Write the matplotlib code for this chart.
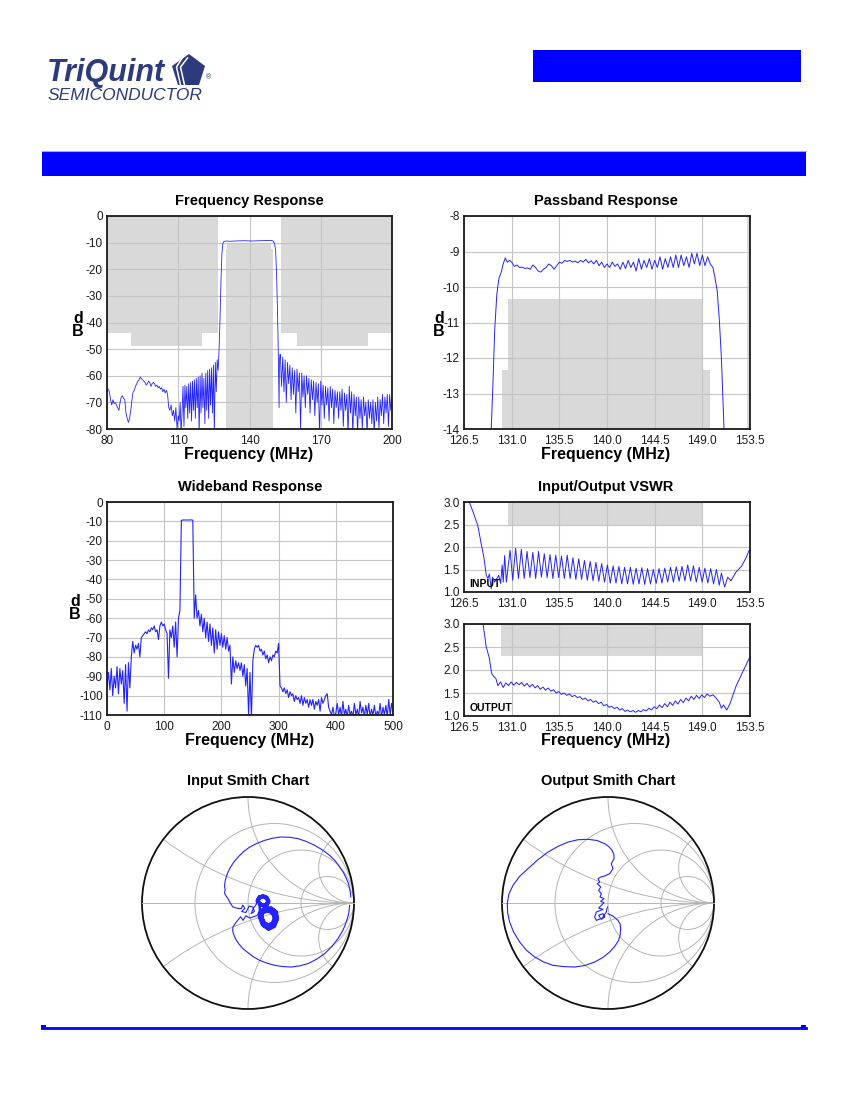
import numpy as np
import matplotlib
matplotlib.use('Agg')
import matplotlib.pyplot as plt
from matplotlib.patches import Rectangle, Polygon, Circle
from matplotlib.lines import Line2D

plt.rcParams['font.family'] = ['Liberation Sans', 'DejaVu Sans']
plt.rcParams['axes.unicode_minus'] = False

W, H = 850, 1100
TRACE = '#2323ff'
GRID = '#c4c4c4'
MASK = '#d9d9d9'

# ---------------- Frequency response (80-200 MHz) ----------------
fr_left_f = np.arange(80.0, 110.01, 0.5)
fr_left_db = [-65.5, -65, -66, -69, -71, -69, -70.5, -70, -71, -72,
              -73, -70, -68, -67.5, -68.5, -69, -74, -76, -77.5, -76,
              -73, -69, -66, -65.5, -64, -63, -62, -61.5, -60.5, -61,
              -61.5, -62, -62.5, -63.5, -63, -62, -62.5, -64, -63, -62.5,
              -63, -64, -63.5, -64.5, -64, -65, -64.5, -66, -65, -66.5,
              -65.5, -67, -72, -73, -71, -75, -73, -77, -72, -80, -75]
fr_rip_f = np.linspace(110.4, 126.4, 41)
fr_rip_db = [-77, -70, -82, -74, -64, -79, -63.5, -72, -64, -76,
             -63, -74, -62.5, -77, -62, -73, -61.5, -76, -61, -72,
             -60.5, -82, -60, -74, -59, -72, -61, -78, -59, -73,
             -58, -76, -57.5, -71, -57, -74, -56, -82, -55, -66, -54]
fr_mid_f = [126.8, 127.2, 127.6, 128.0, 128.4, 128.8, 129.2, 130, 132, 135, 138, 141, 144,
            147, 149, 150, 150.6, 151.0, 151.4, 151.8, 152.1, 152.3, 152.45, 152.6, 152.8]
fr_mid_db = [-58, -50, -38, -24, -14, -10.2, -9.6, -9.4, -9.5, -9.35, -9.3, -9.4, -9.3,
             -9.2, -9.15, -9.4, -10.5, -13, -22, -36, -50, -62, -72, -55, -52]
fr_right_f = np.linspace(153.0, 200.0, 95)
fr_right_db = [-52, -64, -53, -66, -54, -70, -55, -63, -56, -69,
               -57, -67, -58, -74, -57.5, -66, -59, -80, -59, -68,
               -60, -72, -60, -67, -61, -74, -61.5, -69, -62, -75,
               -62.5, -70, -63, -82, -62, -71, -63.5, -76, -64, -71,
               -64.5, -77, -64, -72, -65, -78, -65.5, -72, -66, -76,
               -66, -73, -65, -79, -66.5, -73, -67, -82, -64, -74,
               -66, -82, -67, -75, -68, -82, -68, -76, -69, -80,
               -68, -75, -70, -82, -69, -76, -70, -78, -69, -82,
               -70, -77, -68, -80, -69, -75, -67, -78, -68, -74,
               -67, -79, -67, -73, -68]
stop_mask = [(80, 90, -44), (90, 120, -49), (120, 126.6, -44),
             (153.2, 160, -44), (160, 190, -49), (190, 200, -44)]
pass_mask = [(130.1, 149.7, -12.33), (130.7, 149.1, -10.33)]

# ---------------- Passband response ----------------
pb_f1 = [129.0, 129.2, 129.4, 129.6, 129.8, 130.0, 130.2, 130.4, 130.6, 130.8]
pb_db1 = [-14.5, -13.0, -11.2, -10.2, -9.75, -9.6, -9.35, -9.18, -9.3, -9.25]
pb_rip_f = np.arange(131.0, 150.01, 0.25)
pb_rip_db = [-9.3, -9.42, -9.38, -9.45, -9.44, -9.48, -9.46, -9.5,
             -9.38, -9.45, -9.55, -9.58, -9.5, -9.45, -9.35, -9.4,
             -9.5, -9.4, -9.3, -9.33, -9.25, -9.28, -9.25, -9.3,
             -9.27, -9.32, -9.25, -9.3, -9.22, -9.32, -9.26, -9.35,
             -9.25, -9.4, -9.3, -9.45, -9.35, -9.45, -9.3, -9.42,
             -9.35, -9.5, -9.3, -9.48, -9.25, -9.45, -9.3, -9.55,
             -9.2, -9.5, -9.25, -9.45, -9.2, -9.5, -9.25, -9.45,
             -9.15, -9.5, -9.2, -9.45, -9.15, -9.45, -9.1, -9.45,
             -9.1, -9.4, -9.15, -9.45, -9.05, -9.35, -9.05, -9.4,
             -9.1, -9.4, -9.15, -9.35, -9.45]
pb_f2 = [150.2, 150.4, 150.6, 150.8, 151.0, 151.1]
pb_db2 = [-9.75, -10.1, -10.9, -12.0, -13.6, -14.5]

# ---------------- Wideband response (0-500 MHz, 2.5 MHz steps) ----------------
wb_db = [-95, -88, -97, -86, -100, -90, -96, -85, -99, -86,
         -94, -87, -104, -84, -108, -83, -96, -80, -72, -78,
         -74, -76, -73, -80, -70, -69, -68, -67, -68, -66,
         -67, -65, -66, -64, -67, -66, -71, -64, -62, -64,
         -63, -66, -68, -91, -66, -70, -64, -75, -62, -80,
         -60, -56, -9.5, -9.3, -9.3, -9.3, -9.3, -9.3, -9.3, -9.2,
         -9.4, -60, -48, -60, -56, -64, -58, -67, -60, -70,
         -62, -72, -63, -74, -65, -78, -66, -76, -67, -74,
         -68, -75, -69, -76, -70, -77, -74, -94, -80, -88,
         -82, -86, -83, -87, -83, -90, -84, -95, -86, -110,
         -88, -112, -82, -76, -74, -75, -74, -77, -76, -79,
         -77, -81, -79, -83, -80, -82, -79, -80, -77, -78,
         -73, -95, -96, -98, -96, -99, -97, -101, -98, -100,
         -99, -103, -100, -102, -101, -104, -100, -105, -101, -104,
         -102, -106, -102, -105, -102, -107, -103, -105, -102, -108,
         -101, -104, -102, -100, -99, -106, -108, -110, -106, -111,
         -109, -104, -110, -106, -111, -103, -110, -107, -111, -105,
         -110, -108, -111, -104, -110, -107, -111, -103, -109, -106,
         -111, -105, -110, -104, -111, -107, -110, -105, -111, -108,
         -110, -104, -111, -106, -110, -105, -111, -102, -110, -104,
         -109]
wb_f = np.linspace(0, 500, len(wb_db))

# ---------------- VSWR ----------------
vi_f1 = [126.5, 127.0, 127.4, 127.8, 128.1, 128.4, 128.6, 128.76, 128.9, 129.07,
         129.2, 129.4, 129.6, 129.77, 129.96, 130.1, 130.2, 130.34, 130.5, 130.85]
vi_1 = [3.3, 3.0, 2.75, 2.48, 2.1, 1.74, 1.37, 1.3, 1.4, 1.07,
        1.33, 1.22, 1.3, 1.37, 1.19, 1.6, 1.22, 1.81, 1.22, 1.93]
vi_rip = [1.26, 1.97, 1.30, 1.95, 1.30, 1.90, 1.32, 1.88, 1.30, 1.90,
          1.33, 1.85, 1.32, 1.83, 1.30, 1.82, 1.32, 1.80, 1.30, 1.82,
          1.30, 1.76, 1.28, 1.74, 1.28, 1.70, 1.26, 1.68, 1.25, 1.66,
          1.24, 1.63, 1.22, 1.60, 1.20, 1.58, 1.20, 1.57, 1.18, 1.55,
          1.18, 1.55, 1.17, 1.53, 1.18, 1.54, 1.17, 1.52, 1.18, 1.50,
          1.19, 1.52, 1.20, 1.53, 1.22, 1.55, 1.22, 1.56, 1.24, 1.57,
          1.25, 1.60, 1.25, 1.58, 1.22, 1.55, 1.22, 1.53, 1.20, 1.52,
          1.18, 1.50, 1.15]
vi_rip_f = np.linspace(131.1, 150.6, len(vi_rip))
vi_f2 = [150.8, 151.1, 151.4, 151.7, 152.2, 152.7, 153.1, 153.5]
vi_2 = [1.42, 1.11, 1.33, 1.25, 1.45, 1.57, 1.75, 1.97]

vo_f1 = [128.1, 128.3, 128.6, 128.77, 128.9, 129.1, 129.3, 129.5]
vo_1 = [3.3, 3.0, 2.5, 2.36, 2.25, 1.93, 1.86, 1.82]
vo_rip = [1.66, 1.74, 1.62, 1.72, 1.66, 1.74, 1.67, 1.73,
          1.68, 1.73, 1.65, 1.71, 1.63, 1.69, 1.61, 1.66,
          1.58, 1.63, 1.56, 1.61, 1.54, 1.57, 1.50, 1.53,
          1.47, 1.50, 1.45, 1.48, 1.42, 1.45, 1.40, 1.42,
          1.36, 1.39, 1.33, 1.36, 1.30, 1.33, 1.27, 1.30,
          1.22, 1.25, 1.19, 1.21, 1.16, 1.19, 1.13, 1.16,
          1.10, 1.13, 1.09, 1.12, 1.08, 1.12, 1.09, 1.14,
          1.11, 1.17, 1.13, 1.20, 1.16, 1.24, 1.18, 1.27,
          1.20, 1.30, 1.23, 1.33, 1.26, 1.36, 1.29, 1.39,
          1.33, 1.43, 1.36, 1.45, 1.38, 1.46, 1.40, 1.48,
          1.43]
vo_rip_f = np.linspace(129.7, 149.7, len(vo_rip))
vo_f2 = [150.0, 150.3, 150.6, 150.8, 151.0, 151.3, 151.6, 152.2, 152.8, 153.5]
vo_2 = [1.46, 1.39, 1.3, 1.17, 1.24, 1.13, 1.26, 1.66, 1.95, 2.29]
vin_mask = (130.7, 149.1, 2.5)
vout_mask = (130.0, 149.1, 2.3)

# ---------------- Smith charts (reflection coefficient) ----------------
si_outer_top = [(0.969, 0.057), (0.966, 0.095), (0.959, 0.135), (0.947, 0.185), (0.928, 0.230),
                (0.900, 0.288), (0.865, 0.340), (0.822, 0.398), (0.770, 0.450), (0.703, 0.500),
                (0.629, 0.544), (0.552, 0.580), (0.472, 0.607), (0.393, 0.620), (0.314, 0.623),
                (0.235, 0.612), (0.157, 0.591), (0.085, 0.563), (0.016, 0.528), (-0.042, 0.484),
                (-0.094, 0.434), (-0.138, 0.380), (-0.173, 0.324), (-0.198, 0.268), (-0.214, 0.214),
                (-0.222, 0.160), (-0.215, 0.125), (-0.222, 0.095), (-0.208, 0.068), (-0.189, 0.041),
                (-0.168, 0.000), (-0.142, -0.038), (-0.10, -0.05), (-0.063, -0.053), (-0.05, -0.02),
                (-0.03, -0.05), (-0.06, -0.08), (-0.02, -0.09), (0.01, -0.03), (0.047, -0.038),
                (0.06, -0.08), (0.03, -0.10), (0.05, -0.05), (0.08, -0.01), (0.08, 0.02)]
si_cluster = [(0.08, 0.02), (0.10, 0.06), (0.14, 0.075), (0.18, 0.06), (0.20, 0.02),
              (0.18, -0.02), (0.14, -0.03), (0.10, -0.01),
              (0.09, 0.02), (0.11, 0.05), (0.14, 0.065), (0.175, 0.05), (0.19, 0.02),
              (0.17, -0.01), (0.14, -0.02), (0.11, 0.00),
              (0.085, 0.03), (0.105, 0.065), (0.145, 0.07), (0.185, 0.055), (0.205, 0.015),
              (0.185, -0.025), (0.145, -0.035), (0.105, -0.015),
              (0.11, -0.06), (0.10, -0.13), (0.13, -0.21), (0.19, -0.25), (0.25, -0.22),
              (0.28, -0.15), (0.27, -0.08), (0.22, -0.04), (0.16, -0.04),
              (0.12, -0.07), (0.115, -0.13), (0.14, -0.20), (0.19, -0.235), (0.245, -0.21),
              (0.27, -0.15), (0.26, -0.09), (0.215, -0.055), (0.165, -0.055),
              (0.125, -0.08), (0.125, -0.14), (0.15, -0.19), (0.19, -0.22), (0.235, -0.20),
              (0.255, -0.15), (0.245, -0.10), (0.21, -0.07), (0.17, -0.07),
              (0.115, -0.065), (0.105, -0.125), (0.135, -0.205), (0.19, -0.245), (0.25, -0.215),
              (0.283, -0.15), (0.275, -0.085), (0.225, -0.045), (0.16, -0.05),
              (0.14, -0.09), (0.14, -0.14), (0.16, -0.18), (0.19, -0.20), (0.225, -0.185),
              (0.24, -0.145), (0.23, -0.11), (0.20, -0.085), (0.17, -0.085),
              (0.13, -0.075), (0.11, -0.135), (0.14, -0.215), (0.195, -0.255), (0.255, -0.225),
              (0.28, -0.16), (0.27, -0.09), (0.22, -0.05), (0.17, -0.045),
              (0.10, 0.02), (0.12, 0.045), (0.15, 0.05), (0.17, 0.035), (0.18, 0.01),
              (0.16, -0.01), (0.13, -0.01), (0.11, 0.0),
              (0.12, -0.09), (0.16, -0.20), (0.23, -0.22), (0.26, -0.14), (0.21, -0.07),
              (0.14, -0.10), (0.10, -0.10)]
si_outer_bottom = [(0.10, -0.10), (0.08, -0.12), (0.016, -0.142), (-0.02, -0.12), (-0.047, -0.164),
                   (-0.07, -0.13), (-0.110, -0.179), (-0.142, -0.226), (-0.145, -0.258), (-0.138, -0.289),
                   (-0.118, -0.338), (-0.088, -0.384), (-0.048, -0.430), (0.000, -0.469), (0.052, -0.508),
                   (0.110, -0.541), (0.180, -0.568), (0.252, -0.588), (0.330, -0.600), (0.409, -0.604),
                   (0.488, -0.593), (0.566, -0.572), (0.648, -0.530), (0.723, -0.478), (0.792, -0.410),
                   (0.849, -0.336), (0.895, -0.258), (0.928, -0.179), (0.950, -0.100), (0.959, -0.022)]
so_pts = [(0.000, -0.101), (0.047, -0.123), (0.094, -0.164), (0.115, -0.200), (0.119, -0.242),
          (0.115, -0.300), (0.101, -0.352), (0.063, -0.410), (0.016, -0.462), (-0.050, -0.515),
          (-0.126, -0.557), (-0.220, -0.590), (-0.314, -0.604), (-0.420, -0.600), (-0.519, -0.588),
          (-0.610, -0.555), (-0.692, -0.509), (-0.770, -0.445), (-0.833, -0.368), (-0.890, -0.275),
          (-0.928, -0.179), (-0.947, -0.090), (-0.950, 0.000), (-0.935, 0.085), (-0.896, 0.167),
          (-0.835, 0.250), (-0.755, 0.324), (-0.665, 0.405), (-0.566, 0.481), (-0.470, 0.535),
          (-0.377, 0.575), (-0.283, 0.597), (-0.189, 0.601), (-0.105, 0.590), (-0.031, 0.560),
          (0.010, 0.530), (0.038, 0.497), (0.055, 0.460), (0.057, 0.418), (0.031, 0.371),
          (0.047, 0.324), (0.016, 0.277), (-0.031, 0.255), (-0.069, 0.245),
          (-0.094, 0.230), (-0.079, 0.198), (-0.101, 0.182), (-0.069, 0.151), (-0.088, 0.119),
          (-0.063, 0.088), (-0.075, 0.057), (-0.038, 0.041), (-0.069, 0.016), (-0.038, 0.003),
          (-0.063, -0.022), (-0.088, -0.047), (-0.047, -0.060), (-0.110, -0.085), (-0.126, -0.132),
          (-0.110, -0.164), (-0.069, -0.148), (-0.088, -0.116), (-0.047, -0.101), (-0.031, -0.132),
          (-0.063, -0.154), (-0.016, -0.085), (-0.006, -0.038)]
smith_r = [1 / 3, 1, 3]
smith_x = [1 / 3, 1, 3]

fig = plt.figure(figsize=(8.5, 11), dpi=100)


def P(x, y):
    return (x / W, 1 - y / H)


def ax_px(l, t, r, b):
    return fig.add_axes([l / W, 1 - b / H, (r - l) / W, (b - t) / H])


def style(ax):
    for s in ax.spines.values():
        s.set_linewidth(1.3)
        s.set_color('#1a1a1a')
    ax.tick_params(length=0, labelsize=8.5, colors='#1a1a1a')
    ax.tick_params(axis='x', pad=4.5)
    ax.tick_params(axis='y', pad=3)
    ax.grid(True, color=GRID, lw=0.8)
    ax.set_axisbelow(True)


def ftext(x, y, s, **kw):
    fig.text(x / W, 1 - y / H, s, **kw)


# ---- header / footer decorations ----
fig.add_artist(Rectangle(P(533, 82), 268 / W, 32 / H, transform=fig.transFigure,
                         fc='#0000ff', ec='none'))
fig.add_artist(Rectangle(P(42, 176), 764 / W, 24 / H, transform=fig.transFigure,
                         fc='#0000ff', ec='none'))
fig.add_artist(Line2D([42 / W, 806 / W], [1 - 151 / H] * 2, transform=fig.transFigure,
                      color='#a0a0ff', lw=0.8))
fig.add_artist(Line2D([42 / W, 806 / W], [1 - 1028 / H] * 2, transform=fig.transFigure,
                      color='#0000ff', lw=2.0))
fig.add_artist(Rectangle(P(41, 1029), 5 / W, 4 / H, transform=fig.transFigure, fc='#0000ff', ec='none'))
fig.add_artist(Rectangle(P(801, 1029), 5 / W, 4 / H, transform=fig.transFigure, fc='#0000ff', ec='none'))

NAVY = '#2d3a7c'
ftext(47, 81, 'TriQuint', fontsize=22, fontweight='bold', fontstyle='italic', color=NAVY,
      va='baseline', ha='left')
ftext(48, 100, 'SEMICONDUCTOR', fontsize=12.5, fontstyle='italic', color=NAVY,
      va='baseline', ha='left')
pent = [P(189, 54), P(205, 66), P(199, 85), P(178, 85), P(172, 66)]
fig.add_artist(Polygon(pent, closed=True, transform=fig.transFigure, fc=NAVY, ec='none'))
for off in (0, 4):
    fig.add_artist(Line2D([(183.5 + off) / W, (176.5 + off) / W, (180.5 + off) / W],
                          [1 - (56 + off * 0.5) / H, 1 - 67 / H, 1 - 85 / H],
                          transform=fig.transFigure, color='white', lw=1.1))
ftext(206, 78, '®', fontsize=5, color=NAVY, ha='left', va='center')


def titles(cx, y, s):
    ftext(cx, y, s, fontsize=10.5, fontweight='bold', ha='center', va='center')


def xlab(cx, y):
    ftext(cx, y, 'Frequency (MHz)', fontsize=11.5, fontweight='bold', ha='center', va='center')


def dblab(x, y):
    ftext(x, y, 'd\nB', fontsize=11.5, fontweight='bold', ha='center', va='center', linespacing=0.8)


# ---- Frequency response ----
ax1 = ax_px(107, 216, 392, 429)
style(ax1)
for a, b, lvl in stop_mask:
    ax1.fill_between([a, b], [lvl, lvl], [0, 0], color=MASK, lw=0, zorder=0.3)
for a, b, top in pass_mask:
    ax1.fill_between([a, b], [-80, -80], [top, top], color=MASK, lw=0, zorder=0.3)
fr_f = np.concatenate([fr_left_f, fr_rip_f, fr_mid_f, fr_right_f])
fr_db = np.concatenate([fr_left_db, fr_rip_db, fr_mid_db, fr_right_db])
ax1.plot(fr_f, fr_db, color=TRACE, lw=0.6, zorder=2)
ax1.set_xlim(80, 200)
ax1.set_ylim(-80, 0)
ax1.set_xticks([80, 110, 140, 170, 200])
ax1.set_yticks(range(-80, 1, 10))
titles(249, 201, 'Frequency Response')
xlab(249, 455)
dblab(78, 325)

# ---- Passband response ----
ax2 = ax_px(464, 216, 750, 429)
style(ax2)
ax2.fill_between([126.5, 126.6], [-14, -14], [-8, -8], color=MASK, lw=0, zorder=0.3)
ax2.fill_between([153.2, 153.5], [-14, -14], [-8, -8], color=MASK, lw=0, zorder=0.3)
for a, b, top in pass_mask:
    ax2.fill_between([a, b], [-14, -14], [top, top], color=MASK, lw=0, zorder=0.3)
pb_f = np.concatenate([pb_f1, pb_rip_f, pb_f2])
pb_db = np.concatenate([pb_db1, pb_rip_db, pb_db2])
ax2.plot(pb_f, pb_db, color=TRACE, lw=0.7, zorder=2)
ax2.set_xlim(126.5, 153.5)
ax2.set_ylim(-14, -8)
pticks = [126.5, 131.0, 135.5, 140.0, 144.5, 149.0, 153.5]
ax2.set_xticks(pticks)
ax2.set_xticklabels(['%.1f' % t for t in pticks])
ax2.set_yticks(range(-14, -7))
titles(606, 201, 'Passband Response')
xlab(606, 455)
dblab(439, 325)

# ---- Wideband response ----
ax3 = ax_px(107, 502, 393, 715)
style(ax3)
ax3.plot(wb_f, wb_db, color=TRACE, lw=0.8, zorder=2)
ax3.set_xlim(0, 500)
ax3.set_ylim(-110, 0)
ax3.set_xticks(range(0, 501, 100))
ax3.set_yticks(range(-110, 1, 10))
titles(250, 487, 'Wideband Response')
xlab(250, 741)
dblab(75, 608)

# ---- VSWR ----
ax4 = ax_px(464, 502, 750, 592)
style(ax4)
a, b, lvl = vin_mask
ax4.fill_between([a, b], [lvl, lvl], [3, 3], color=MASK, lw=0, zorder=0.3)
ax4.plot(np.concatenate([vi_f1, vi_rip_f, vi_f2]), np.concatenate([vi_1, vi_rip, vi_2]),
         color=TRACE, lw=0.7, zorder=2)
ax4.set_xlim(126.5, 153.5)
ax4.set_ylim(1.0, 3.0)
ax4.set_xticks(pticks)
ax4.set_xticklabels(['%.1f' % t for t in pticks])
ax4.set_yticks([1.0, 1.5, 2.0, 2.5, 3.0])
ax4.set_yticklabels(['1.0', '1.5', '2.0', '2.5', '3.0'])
ax4.text(0.02, 0.09, 'INPUT', transform=ax4.transAxes, fontsize=7.5, fontweight='bold',
         va='center', ha='left')
titles(606, 487, 'Input/Output VSWR')

ax5 = ax_px(464, 624, 750, 716)
style(ax5)
a, b, lvl = vout_mask
ax5.fill_between([a, b], [lvl, lvl], [3, 3], color=MASK, lw=0, zorder=0.3)
ax5.plot(np.concatenate([vo_f1, vo_rip_f, vo_f2]), np.concatenate([vo_1, vo_rip, vo_2]),
         color=TRACE, lw=0.7, zorder=2)
ax5.set_xlim(126.5, 153.5)
ax5.set_ylim(1.0, 3.0)
ax5.set_xticks(pticks)
ax5.set_xticklabels(['%.1f' % t for t in pticks])
ax5.set_yticks([1.0, 1.5, 2.0, 2.5, 3.0])
ax5.set_yticklabels(['1.0', '1.5', '2.0', '2.5', '3.0'])
ax5.text(0.02, 0.09, 'OUTPUT', transform=ax5.transAxes, fontsize=7.5, fontweight='bold',
         va='center', ha='left')
xlab(606, 741)


# ---- Smith charts ----
def smith(cx, cy, rad, traces, title):
    lim = 1.05
    half = rad * lim
    ax = ax_px(cx - half, cy - half, cx + half, cy + half)
    ax.set_xlim(-lim, lim)
    ax.set_ylim(-lim, lim)
    ax.set_aspect('equal')
    ax.axis('off')
    clip = Circle((0, 0), 1, transform=ax.transData, fc='none', ec='none')
    ax.add_patch(clip)
    gc = '#b4b4b4'
    for r in smith_r:
        ax.add_patch(Circle((r / (1 + r), 0), 1 / (1 + r), fill=False, ec=gc, lw=0.7))
    for x in smith_x:
        for s in (1, -1):
            c = Circle((1, s / x), 1 / x, fill=False, ec=gc, lw=0.7)
            ax.add_patch(c)
            c.set_clip_path(clip)
    ax.plot([-1, 1], [0, 0], color=gc, lw=0.7)
    ax.add_patch(Circle((0, 0), 1, fill=False, ec='#111111', lw=1.3, clip_on=False))
    for pts, lw in traces:
        ax.plot([p[0] for p in pts], [p[1] for p in pts], color=TRACE, lw=lw, zorder=3)
    titles(cx, 781, title)


smith(248, 903, 106, [(si_outer_top, 0.8), (si_cluster, 1.4), (si_outer_bottom, 0.8)],
      'Input Smith Chart')
smith(608, 903, 106, [(so_pts, 0.8)], 'Output Smith Chart')

fig.savefig('out.png', dpi=100)
